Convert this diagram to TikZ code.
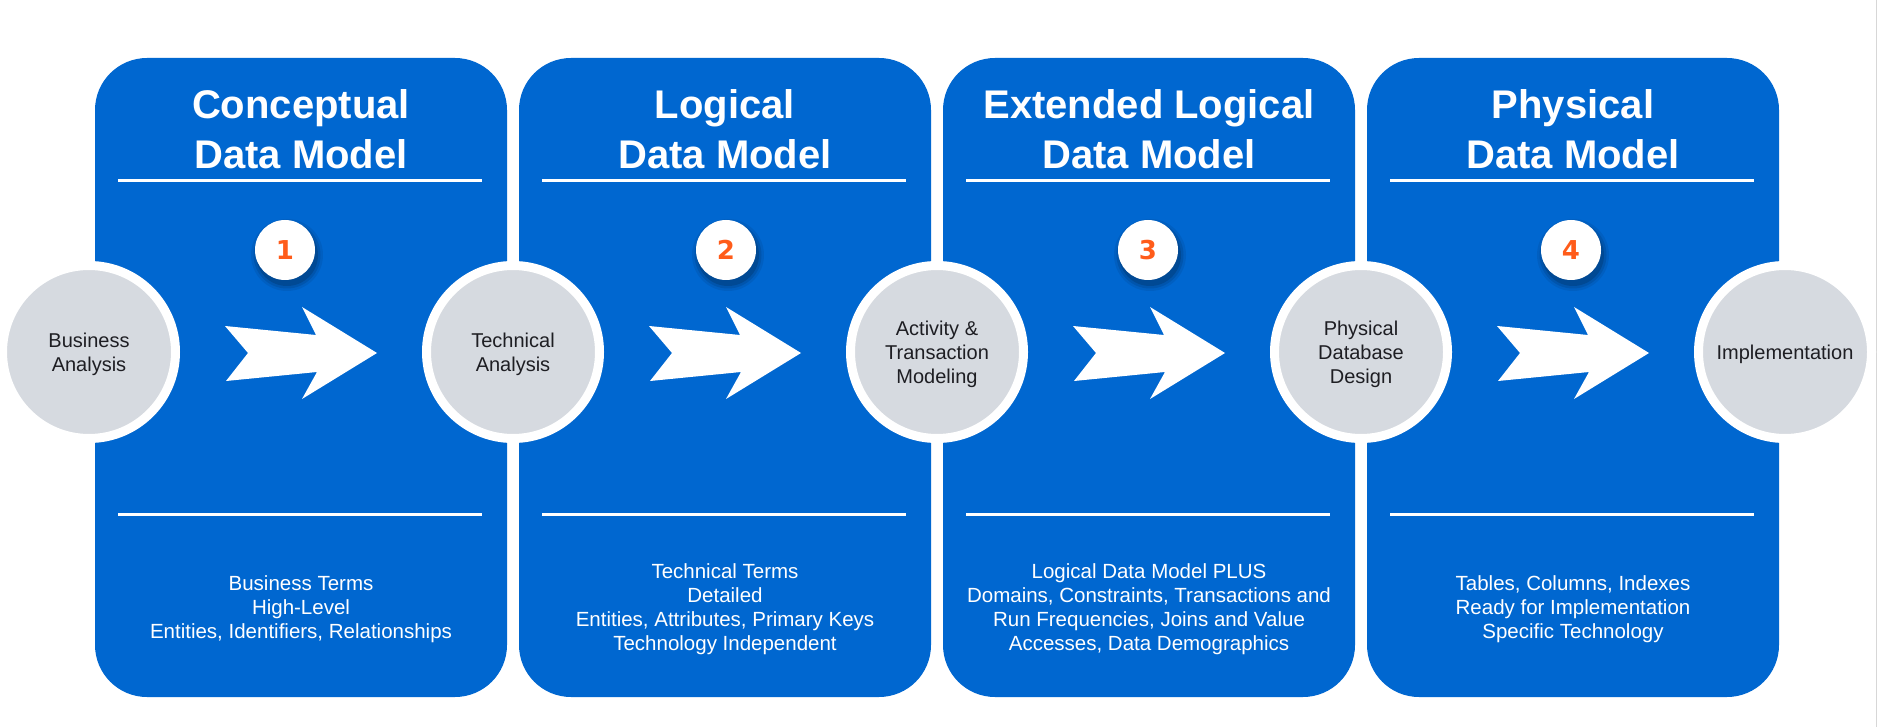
\documentclass[tikz,border=0pt]{standalone}
\usepackage{fontspec}
\setmainfont{Liberation Sans}
\newfontfamily\numfont{DejaVu Sans}
\definecolor{panelblue}{RGB}{0,103,208}
\definecolor{circgray}{RGB}{214,218,224}
\definecolor{numorange}{RGB}{255,92,26}
\definecolor{circtext}{RGB}{30,30,35}
\definecolor{edgegray}{RGB}{215,215,215}
\begin{document}
\begin{tikzpicture}[x=1pt,y=-1pt,
  panel/.style={rectangle, fill=panelblue, rounded corners=52pt, minimum width=412pt, minimum height=639pt, inner sep=0pt},
  rule/.style={draw=white, line width=3pt},
  title/.style={anchor=north, inner sep=0pt, text=white, align=center, font=\fontsize{40}{50}\selectfont\bfseries},
  desc/.style={anchor=north, inner sep=0pt, text=white, align=center, font=\fontsize{20.5}{24}\selectfont},
  stage/.style={circle, fill=circgray, draw=white, line width=9pt, minimum size=173pt, inner sep=0pt, align=center, text=circtext, font=\fontsize{20}{24}\selectfont, text depth=0pt},
  badge/.style={circle, fill=white, minimum size=60pt, inner sep=0pt, text=numorange, font=\numfont\bfseries\fontsize{26}{26}\selectfont},
  bigarrow/.style={fill=white},
  badgeshadow/.style={fill=black, opacity=#1}
]
\useasboundingbox (0,0) rectangle (1879,727);
\fill[white] (0,0) rectangle (1879,727);
\draw[edgegray, line width=1.5pt] (1876.5,0) -- (1876.5,727);

% panels
\node[panel] (p1) at (301,377.5) {};
\node[panel] (p2) at (725,377.5) {};
\node[panel] (p3) at (1149,377.5) {};
\node[panel] (p4) at (1573,377.5) {};

% titles
\node[title] (t1) at (301,89.4) {Conceptual\\Data Model};
\node[title] (t2) at (725,89.4) {Logical\\Data Model};
\node[title] (t3) at (1149,89.4) {Extended Logical\\Data Model};
\node[title] (t4) at (1573,89.4) {Physical\\Data Model};

% rules and arrows
\foreach \cx in {301,725,1149,1573}{
  \draw[rule] ({\cx-183},181) -- ({\cx+181},181);
  \draw[rule] ({\cx-183},514) -- ({\cx+181},514);
  \fill[bigarrow] ({\cx-76},326) -- ({\cx-53},353) -- ({\cx-75},381) -- ({\cx+16},372)
     -- ({\cx+1},399) -- ({\cx+76},353) -- ({\cx+1},307) -- ({\cx+15},335) -- cycle;
}

% descriptions
\node[desc] (d1) at (301,575.3) {Business Terms\\High-Level\\Entities, Identifiers, Relationships};
\node[desc] (d2) at (725,563.3) {Technical Terms\\Detailed\\Entities, Attributes, Primary Keys\\Technology Independent};
\node[desc] (d3) at (1149,563.3) {Logical Data Model PLUS\\Domains, Constraints, Transactions and\\Run Frequencies, Joins and Value\\Accesses, Data Demographics};
\node[desc] (d4) at (1573,575.3) {Tables, Columns, Indexes\\Ready for Implementation\\Specific Technology};

% badges
\foreach \bx in {285,726,1148,1571}{
  \fill[badgeshadow=0.07] ({\bx+2},255) circle[radius=36];
  \fill[badgeshadow=0.10] ({\bx+2},255) circle[radius=33.5];
  \fill[badgeshadow=0.14] ({\bx+2},255) circle[radius=31];
}
\node[badge] (b1) at (285,250) {1};
\node[badge] (b2) at (726,250) {2};
\node[badge] (b3) at (1148,250) {3};
\node[badge] (b4) at (1571,250) {4};

% stage circles
\node[stage] (s1) at (89,352) {Business\\Analysis};
\node[stage] (s2) at (513,352) {Technical\\Analysis};
\node[stage] (s3) at (937,352) {Activity \&\\Transaction\\Modeling};
\node[stage] (s4) at (1361,352) {Physical\\Database\\Design};
\node[stage] (s5) at (1785,352) {Implementation};
\end{tikzpicture}
\end{document}
